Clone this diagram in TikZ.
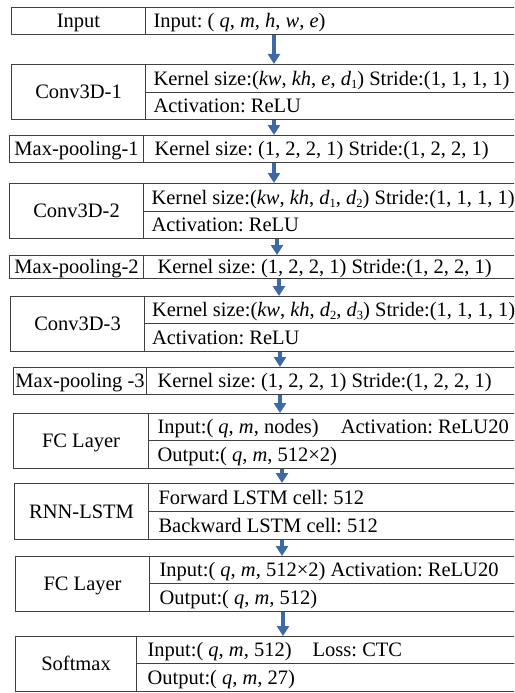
\documentclass[tikz,border=0pt]{standalone}
\usepackage{fontspec}
\setmainfont{Liberation Serif}
\usetikzlibrary{arrows.meta}
\definecolor{linegray}{HTML}{404040}
\definecolor{arrowblue}{HTML}{3D6AA6}
\newcommand\vi[1]{\textit{#1}}
\newcommand\dsub[1]{{\itshape d}\raisebox{-0.3ex}{\fontsize{12.5}{12.5}\selectfont #1}}
\newcommand\cellfont{\fontsize{20.5}{24}\selectfont\frenchspacing}
\begin{document}
\begin{tikzpicture}[x=1pt,y=-1pt,
  cell/.style={draw=linegray, line width=1.1pt, inner sep=0pt, anchor=north west,
    text height=15pt, text depth=1.4pt, font=\cellfont},
  lab/.style={cell, align=flush center},
  prm/.style={cell, align=flush left},
  flow/.style={draw=arrowblue, line width=4pt, -{Triangle[width=12pt,length=10pt]}}]
\useasboundingbox (0,0) rectangle (514,693);
\clip (0,0) rectangle (514,693);

% Input
\node[lab, minimum width=134, minimum height=27] (inL) at (11,7) {Input};
\node[prm, minimum width=455, minimum height=27, text width=439] (inR) at (145,7)
  {Input: ( \vi{q}, \vi{m}, \vi{h}, \vi{w}, \vi{e})};

% Conv3D-1
\node[lab, minimum width=134, minimum height=55] (c1L) at (11,64) {Conv3D-1};
\node[prm, minimum width=455, minimum height=28, text width=439] (c1a) at (145,64)
  {Kernel size:(\vi{kw}, \vi{kh}, \vi{e}, \dsub{1}) Stride:(1, 1, 1, 1)};
\node[prm, minimum width=455, minimum height=27, text width=439] (c1b) at (145,92)
  {Activation: ReLU};

% Max-pooling-1
\node[lab, minimum width=134, minimum height=27] (p1L) at (9,135) {Max-pooling-1};
\node[prm, minimum width=457, minimum height=27, text width=435] (p1R) at (143,135)
  {Kernel size: (1, 2, 2, 1) Stride:(1, 2, 2, 1)};

% Conv3D-2
\node[lab, minimum width=134, minimum height=55] (c2L) at (9,183) {Conv3D-2};
\node[prm, minimum width=457, minimum height=28, text width=441] (c2a) at (143,183)
  {Kernel size:(\vi{kw}, \vi{kh}, \dsub{1}, \dsub{2}) Stride:(1, 1, 1, 1)};
\node[prm, minimum width=457, minimum height=27, text width=441] (c2b) at (143,211)
  {Activation: ReLU};

% Max-pooling-2
\node[lab, minimum width=134, minimum height=23] (p2L) at (9,255) {Max-pooling-2};
\node[prm, minimum width=457, minimum height=23, text width=429] (p2R) at (143,255)
  {Kernel size: (1, 2, 2, 1) Stride:(1, 2, 2, 1)};

% Conv3D-3
\node[lab, minimum width=134, minimum height=55] (c3L) at (10,296) {Conv3D-3};
\node[prm, minimum width=456, minimum height=27, text width=441] (c3a) at (144,296)
  {Kernel size:(\vi{kw}, \vi{kh}, \dsub{2}, \dsub{3}) Stride:(1, 1, 1, 1)};
\node[prm, minimum width=456, minimum height=28, text width=441] (c3b) at (144,323)
  {Activation: ReLU};

% Max-pooling-3
\node[lab, minimum width=133, minimum height=27] (p3L) at (13,367) {Max-pooling -3};
\node[prm, minimum width=454, minimum height=27, text width=432] (p3R) at (146,367)
  {Kernel size: (1, 2, 2, 1) Stride:(1, 2, 2, 1)};

% FC layer
\node[lab, minimum width=135, minimum height=55] (f1L) at (13,413) {FC Layer};
\node[prm, minimum width=452, minimum height=27, text width=434] (f1a) at (148,413)
  {Input:( \vi{q}, \vi{m}, nodes)\hspace{17pt} Activation: ReLU20};
\node[prm, minimum width=452, minimum height=28, text width=434] (f1b) at (148,440)
  {Output:( \vi{q}, \vi{m}, 512×2)};

% RNN-LSTM
\node[lab, minimum width=134, minimum height=56] (rnL) at (14,483) {RNN-LSTM};
\node[prm, minimum width=452, minimum height=28, text width=432] (rna) at (148,483)
  {Forward LSTM cell: 512};
\node[prm, minimum width=452, minimum height=28, text width=432] (rnb) at (148,511)
  {Backward LSTM cell: 512};

% FC layer
\node[lab, minimum width=134, minimum height=55] (f2L) at (15,556) {FC Layer};
\node[prm, minimum width=451, minimum height=27, text width=431] (f2a) at (149,556)
  {Input:( \vi{q}, \vi{m}, 512×2) Activation: ReLU20};
\node[prm, minimum width=451, minimum height=28, text width=431] (f2b) at (149,583)
  {Output:( \vi{q}, \vi{m}, 512)};

% Softmax
\node[lab, minimum width=121, minimum height=55] (smL) at (15,636) {Softmax};
\node[prm, minimum width=464, minimum height=27, text width=442] (sma) at (136,636)
  {Input:( \vi{q}, \vi{m}, 512)\hspace{16pt} Loss: CTC};
\node[prm, minimum width=464, minimum height=28, text width=442] (smb) at (136,663)
  {Output:( \vi{q}, \vi{m}, 27)};

% arrow columns
\coordinate (ax1) at (274,0);
\coordinate (ax2) at (277,0);
\coordinate (ax3) at (279,0);
\coordinate (ax4) at (280,0);
\coordinate (ax5) at (282,0);
\coordinate (ax6) at (283,0);

\draw[flow] (inR.south -| ax1) -- (c1a.north -| ax1);
\draw[flow] (c1b.south -| ax1) -- (p1R.north -| ax1);
\draw[flow] (p1R.south -| ax1) -- (c2a.north -| ax1);
\draw[flow] (c2b.south -| ax2) -- (p2R.north -| ax2);
\draw[flow] (p2R.south -| ax3) -- (c3a.north -| ax3);
\draw[flow] (c3b.south -| ax4) -- (p3R.north -| ax4);
\draw[flow] (p3R.south -| ax4) -- (f1a.north -| ax4);
\draw[flow] (f1b.south -| ax5) -- (rna.north -| ax5);
\draw[flow] (rnb.south -| ax5) -- (f2a.north -| ax5);
\draw[flow] (f2b.south -| ax6) -- (sma.north -| ax6);
\end{tikzpicture}
\end{document}
